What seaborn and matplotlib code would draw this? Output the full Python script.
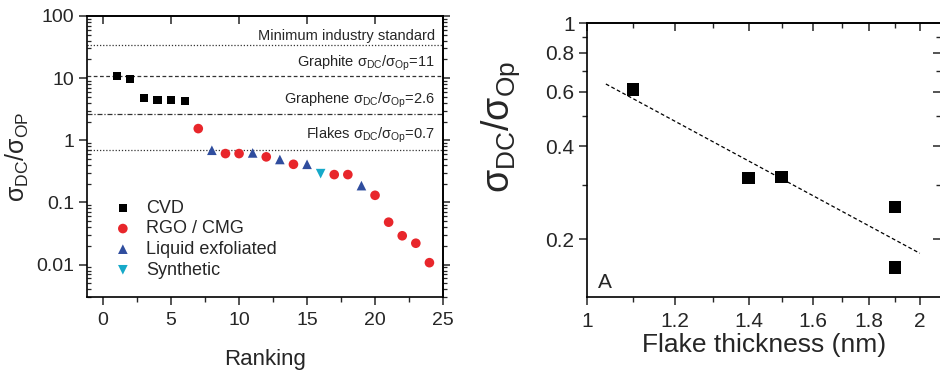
import numpy as np
import pandas as pd
import matplotlib
matplotlib.use("Agg")
import matplotlib.pyplot as plt
from matplotlib.ticker import FixedLocator, FuncFormatter, NullFormatter, LogLocator
import seaborn as sns

sns.set_style("ticks")
plt.rcParams["font.family"] = ["Liberation Sans", "DejaVu Sans"]
plt.rcParams["mathtext.fontset"] = "custom"
plt.rcParams["mathtext.rm"] = "Liberation Sans"
plt.rcParams["mathtext.it"] = "Liberation Sans:italic"
plt.rcParams["mathtext.bf"] = "Liberation Sans:bold"

# left panel: sigma_DC / sigma_OP ranking
cvd_rank = [1, 2, 3, 4, 5, 6]
cvd_ratio = [10.7, 9.6, 4.8, 4.45, 4.45, 4.25]
rgo_rank = [7, 9, 10, 12, 14, 17, 18, 20, 21, 22, 23, 24]
rgo_ratio = [1.54, 0.61, 0.61, 0.54, 0.41, 0.28, 0.28, 0.13, 0.048, 0.029, 0.022, 0.0107]
liq_rank = [8, 11, 13, 15, 19]
liq_ratio = [0.69, 0.625, 0.49, 0.41, 0.186]
syn_rank = [16]
syn_ratio = [0.29]

ref_levels = [34, 11, 2.6, 0.7]
ref_labels = [
    "Minimum industry standard",
    r"Graphite $\mathregular{σ_{DC}/σ_{Op}}$=11",
    r"Graphene $\mathregular{σ_{DC}/σ_{Op}}$=2.6",
    r"Flakes $\mathregular{σ_{DC}/σ_{Op}}$=0.7",
]

# right panel: ratio vs flake thickness
thickness = [1.1, 1.4, 1.5, 1.9, 1.9]
thick_ratio = [0.61, 0.315, 0.318, 0.254, 0.162]
fit_x = [1.04, 2.0]
fit_y = [0.635, 0.18]

groups = [
    ("CVD", cvd_rank, cvd_ratio, "s", "black", 36),
    ("RGO / CMG", rgo_rank, rgo_ratio, "o", "#e8262b", 48),
    ("Liquid exfoliated", liq_rank, liq_ratio, "^", "#2f4d9e", 48),
    ("Synthetic", syn_rank, syn_ratio, "v", "#16a9c9", 48),
]

fig = plt.figure(figsize=(9.4, 3.71), dpi=100)
ax1 = fig.add_axes([0.0926, 0.1995, 0.3787, 0.7574])
ax2 = fig.add_axes([0.6245, 0.1995, 0.3765, 0.7385])

fmt = FuncFormatter(lambda v, p: f"{v:g}")

# ---- left panel
for name, xs, ys, mk, col, size in groups:
    df = pd.DataFrame({"rank": xs, "ratio": ys})
    sns.scatterplot(data=df, x="rank", y="ratio", marker=mk, color=col, s=size,
                    edgecolor="none", label=name, ax=ax1, zorder=3)

styles = [(0, (1, 1.5)), (0, (3, 2)), (0, (4, 1.5, 1, 1.5)), (0, (1, 1.5))]
for lev, ls in zip(ref_levels, styles):
    ax1.axhline(lev, color="#333333", lw=0.9, ls=ls, zorder=1)

label_y = [0.929, 0.833, 0.701, 0.577]
for txt, yy in zip(ref_labels, label_y):
    ax1.text(0.978, yy, txt, transform=ax1.transAxes, ha="right", va="center", fontsize=10.5)

ax1.set_yscale("log")
ax1.set_xlim(-1.18, 25)
ax1.set_ylim(0.003, 100)
ax1.xaxis.set_major_locator(FixedLocator([0, 5, 10, 15, 20, 25]))
ax1.xaxis.set_minor_locator(FixedLocator([2.5, 7.5, 12.5, 17.5, 22.5]))
ax1.yaxis.set_major_locator(FixedLocator([0.01, 0.1, 1, 10, 100]))
ax1.yaxis.set_minor_locator(LogLocator(base=10, subs=np.arange(2, 10), numticks=20))
ax1.yaxis.set_major_formatter(fmt)
ax1.yaxis.set_minor_formatter(NullFormatter())
ax1.tick_params(axis="both", which="major", direction="out", length=6, width=1.1, labelsize=14, pad=3)
ax1.tick_params(axis="x", which="major", pad=5)
ax1.tick_params(axis="x", which="minor", direction="out", length=3.5, width=1)
ax1.tick_params(axis="y", which="minor", direction="in", length=3, width=0.9)
ax1.set_xlabel("Ranking", fontsize=16, labelpad=14)
ax1.set_ylabel(r"$\mathregular{σ_{DC}/σ_{OP}}$", fontsize=18, labelpad=4)

top1 = ax1.secondary_xaxis("top")
top1.xaxis.set_major_locator(FixedLocator([0, 5, 10, 15, 20, 25]))
top1.tick_params(direction="in", length=6, width=1.1, labeltop=False)
right1 = ax1.secondary_yaxis("right")
right1.yaxis.set_major_locator(FixedLocator([0.01, 0.1, 1, 10, 100]))
right1.yaxis.set_minor_locator(LogLocator(base=10, subs=np.arange(2, 10), numticks=20))
right1.tick_params(which="major", direction="out", length=5, width=1.1, labelright=False)
right1.tick_params(which="minor", direction="out", length=3, width=0.9, labelright=False)

ax1.legend(loc="lower left", bbox_to_anchor=(0.06, 0.04), frameon=False, fontsize=13,
           handlelength=0.8, handletextpad=0.9, labelspacing=0.2, borderaxespad=0)

# ---- right panel
df2 = pd.DataFrame({"thickness": thickness, "ratio": thick_ratio})
sns.scatterplot(data=df2, x="thickness", y="ratio", marker="s", color="black", s=80,
                edgecolor="none", ax=ax2, zorder=3, legend=False)
sns.lineplot(x=fit_x, y=fit_y, color="black", lw=0.9, ls=(0, (3, 2)), ax=ax2)

ax2.set_xscale("log")
ax2.set_yscale("log")
ax2.set_xlim(1, 2.09)
ax2.set_ylim(0.13, 1)
xmaj = [1, 1.2, 1.4, 1.6, 1.8, 2]
xmin = [1.1, 1.3, 1.5, 1.7, 1.9]
ymaj = [0.2, 0.4, 0.6, 0.8, 1]
ymin = [0.3, 0.5, 0.7, 0.9]
ax2.xaxis.set_major_locator(FixedLocator(xmaj))
ax2.xaxis.set_minor_locator(FixedLocator(xmin))
ax2.yaxis.set_major_locator(FixedLocator(ymaj))
ax2.yaxis.set_minor_locator(FixedLocator(ymin))
ax2.xaxis.set_major_formatter(fmt)
ax2.yaxis.set_major_formatter(fmt)
ax2.xaxis.set_minor_formatter(NullFormatter())
ax2.yaxis.set_minor_formatter(NullFormatter())
ax2.tick_params(which="major", direction="out", length=6, width=1.1, labelsize=15, pad=3)
ax2.tick_params(axis="x", which="major", pad=5)
ax2.tick_params(which="minor", direction="out", length=3.5, width=1)
ax2.set_xlabel("Flake thickness (nm)", fontsize=19, labelpad=1)
ax2.set_ylabel(r"$\mathregular{σ_{DC}/σ_{Op}}$", fontsize=27)
ax2.yaxis.set_label_coords(-0.185, 0.62)
ax2.text(0.03, 0.02, "A", transform=ax2.transAxes, fontsize=15, ha="left", va="bottom")

top2 = ax2.secondary_xaxis("top")
top2.xaxis.set_major_locator(FixedLocator(xmaj))
top2.xaxis.set_minor_locator(FixedLocator(xmin))
top2.tick_params(which="major", direction="in", length=6, width=1.1, labeltop=False)
top2.tick_params(which="minor", direction="in", length=3.5, width=1, labeltop=False)
right2 = ax2.secondary_yaxis("right")
right2.yaxis.set_major_locator(FixedLocator(ymaj))
right2.yaxis.set_minor_locator(FixedLocator(ymin))
right2.tick_params(which="major", direction="in", length=6, width=1.1, labelright=False)
right2.tick_params(which="minor", direction="in", length=3.5, width=1, labelright=False)

for ax in (ax1, ax2, top1, right1, top2, right2):
    for sp in ax.spines.values():
        sp.set_linewidth(1.2)
        sp.set_color("black")

fig.savefig("out.png", dpi=100)
